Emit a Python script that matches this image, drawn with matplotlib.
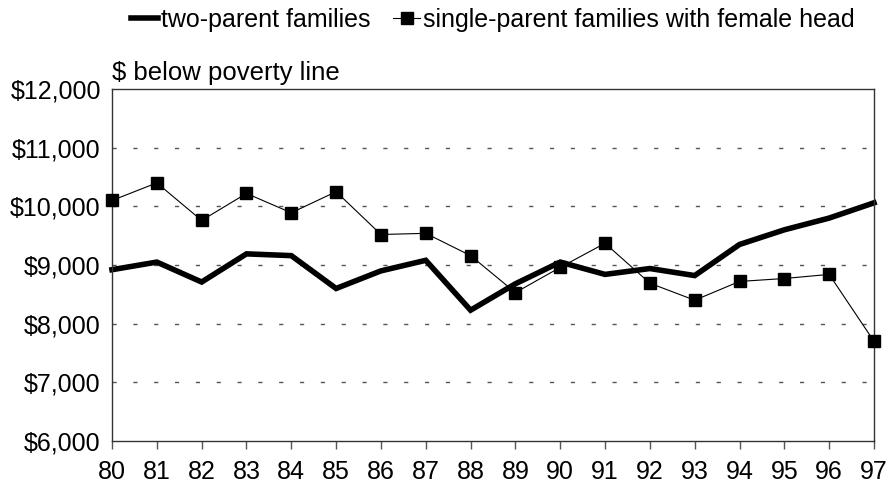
import matplotlib
matplotlib.use('Agg')

import matplotlib.pyplot as plt
from matplotlib.ticker import FuncFormatter

years = [80, 81, 82, 83, 84, 85, 86, 87, 88, 89, 90, 91, 92, 93, 94, 95, 96, 97]
year_labels = [str(y) for y in years]

two_parent = [8920, 9050, 8710, 9190, 9160, 8600, 8900, 9080, 8230, 8680,
              9050, 8840, 8940, 8820, 9350, 9600, 9800, 10060]
single_female = [10100, 10400, 9760, 10220, 9890, 10250, 9520, 9540, 9160, 8530,
                 8960, 9370, 8690, 8400, 8720, 8770, 8840, 7700]

plt.rcParams['font.family'] = ['Liberation Sans', 'DejaVu Sans']

fig = plt.figure(figsize=(8.91, 4.84), dpi=100)
ax = fig.add_axes([0.1257, 0.0888, 0.8552, 0.7273])

ax.plot(years, two_parent, color='black', lw=4.0, solid_joinstyle='miter',
        clip_on=False, label='two-parent families')
ax.plot(years, single_female, color='black', lw=0.8, marker='s', markersize=8,
        clip_on=False, zorder=3, label='single-parent families with female head')

ax.set_xlim(80, 97)
ax.set_ylim(6000, 12000)
ax.set_yticks(range(6000, 12001, 1000))
ax.set_xticks(years)
ax.set_xticklabels(year_labels)
ax.yaxis.set_major_formatter(FuncFormatter(lambda v, p: '${:,.0f}'.format(v)))

# dashed horizontal guides
for v in range(7000, 12000, 1000):
    ax.axhline(v, color='#555555', lw=1.0, dashes=(3, 12), zorder=0)

for s in ax.spines.values():
    s.set_color('#333333')
    s.set_linewidth(1.0)

ax.tick_params(axis='x', direction='out', length=6, width=1, color='#555555',
               labelsize=18, pad=8)
ax.tick_params(axis='y', length=0, labelsize=18, pad=8)

ax.text(0, 1.01, '$ below poverty line', transform=ax.transAxes,
        fontsize=18.5, ha='left', va='bottom')

fig.legend(loc='upper center', bbox_to_anchor=(0.553, 1.03), ncol=2,
           frameon=False, fontsize=18, handlelength=1.1, handletextpad=0.1,
           columnspacing=0.9)

plt.savefig('out.png', dpi=100)
plt.close(fig)
